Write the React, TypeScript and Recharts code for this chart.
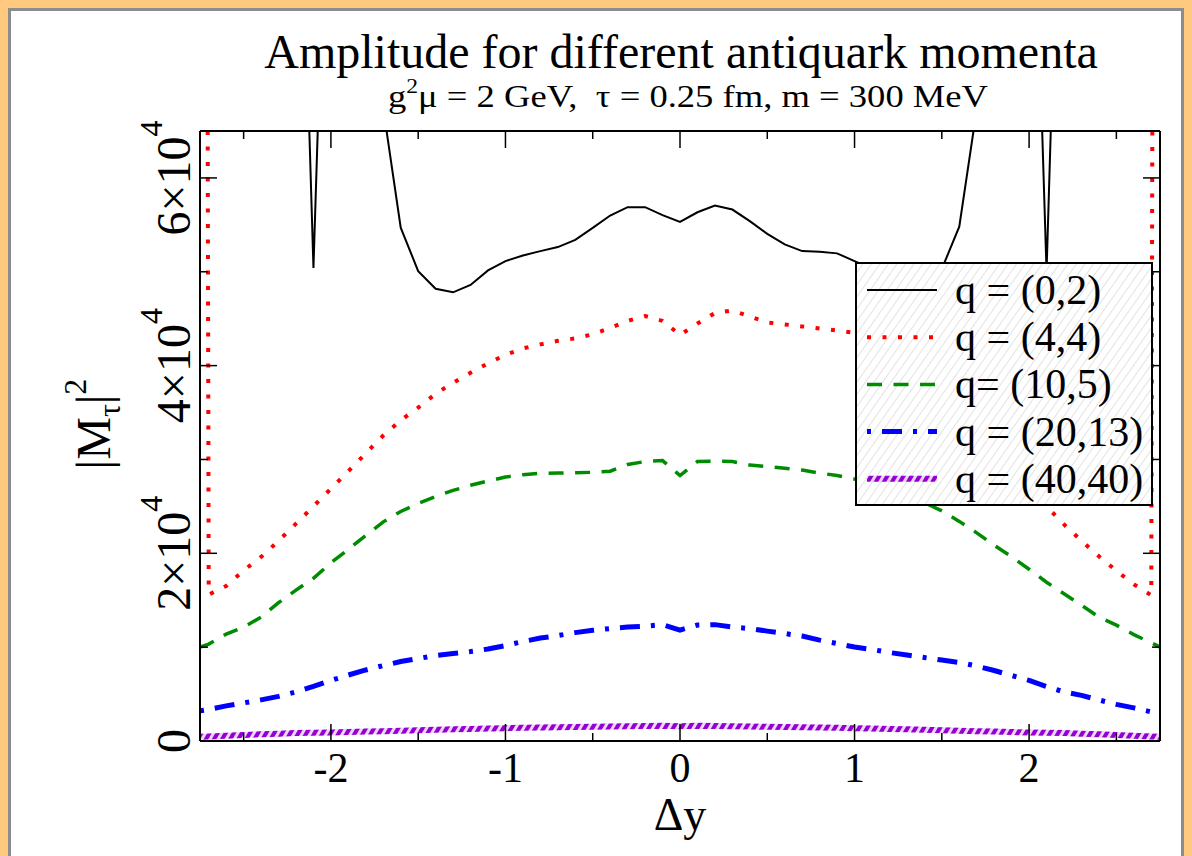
import React from "react";
import { LineChart, Line, XAxis, YAxis } from "recharts";

// rapidity difference grid
const dy = [
  -2.75, -2.7, -2.6, -2.5, -2.4, -2.3, -2.2, -2.1, -2.0, -1.9, -1.8, -1.7, -1.6, -1.5, -1.4, -1.3, -1.2, -1.1, -1.0,
  -0.9, -0.8, -0.7, -0.6, -0.5, -0.4, -0.3, -0.2, -0.1, 0, 0.1, 0.2, 0.3, 0.4, 0.5, 0.6, 0.7, 0.8, 0.9, 1.0,
  1.1, 1.2, 1.3, 1.4, 1.5, 1.6, 1.7, 1.8, 1.9, 2.0, 2.1, 2.2, 2.3, 2.4, 2.5, 2.6, 2.7, 2.75,
];

const q02 = [
  260000, 230000, 200000, 175000, 150000, 130000, 112000, 50400, 110000, 95000, 82000, 67400, 54700, 50070, 48190, 47810, 48590, 50150, 51140,
  51740, 52200, 52630, 53400, 54680, 55990, 56880, 56880, 56030, 55310, 56340, 57060, 56630, 55390, 54040, 52910, 52200, 52130, 51960, 51140,
  50300, 48800, 47900, 48300, 50300, 54800, 67300, 82000, 95000, 110000, 50000, 112000, 130000, 150000, 175000, 200000, 230000, 260000,
];

const q44 = [
  430000, 15600, 16520, 18170, 19620, 21320, 23160, 25000, 26880, 28750, 30660, 32550, 34170, 35520, 37000, 38170, 39240, 40240, 41150,
  41830, 42260, 42640, 42900, 43330, 44020, 44760, 45290, 44760, 43270, 44490, 45610, 45880, 45240, 44600, 44390, 44180, 43960, 43750, 43490,
  42900, 42000, 40700, 39000, 37100, 34900, 32700, 30700, 28750, 26880, 25000, 23080, 21330, 19680, 18140, 16700, 15530, 430000,
];

const q105 = [
  10010, 10330, 11390, 12140, 13200, 14740, 16070, 17340, 18990, 20420, 21910, 23350, 24460, 25310, 26060, 26700, 27250, 27700, 28130,
  28370, 28520, 28560, 28590, 28630, 28750, 29460, 29780, 29880, 28290, 29780, 29810, 29780, 29400, 29250, 29060, 28870, 28550, 28290, 27920,
  27500, 26900, 26200, 25400, 24520, 23400, 22180, 20850, 19630, 18300, 16920, 15700, 14470, 13200, 12350, 11340, 10470, 10010,
];

const q2013 = [
  3210, 3370, 3740, 4060, 4380, 4750, 5230, 5810, 6450, 7030, 7570, 8040, 8470, 8790, 9110, 9320, 9530, 9800, 10170,
  10600, 10970, 11230, 11550, 11790, 11980, 12140, 12240, 12400, 11820, 12350, 12400, 12140, 11980, 11710, 11450, 11180, 10750, 10380, 10010,
  9750, 9430, 9160, 8890, 8630, 8360, 7990, 7510, 6980, 6450, 5810, 5230, 4860, 4380, 3900, 3530, 3100, 2940,
];

const q4040 = [
  450, 480, 560, 640, 710, 780, 840, 880, 910, 950, 1000, 1050, 1100, 1150, 1200, 1250, 1290, 1330, 1370,
  1400, 1430, 1460, 1490, 1520, 1550, 1580, 1600, 1620, 1580, 1620, 1600, 1580, 1550, 1520, 1490, 1460, 1430, 1400, 1370,
  1330, 1290, 1250, 1200, 1150, 1100, 1050, 1000, 950, 910, 880, 840, 780, 710, 640, 560, 480, 450,
];

const xTicks = [-2.5, -2, -1.5, -1, -0.5, 0, 0.5, 1, 1.5, 2, 2.5];
const yTicks = [0, 10000, 20000, 30000, 40000, 50000, 60000];

const series = [
  { key: "q02", name: "q = (0,2)", values: q02, color: "#000000", width: 2, dash: undefined as string | undefined },
  { key: "q44", name: "q = (4,4)", values: q44, color: "#ff0000", width: 4, dash: "4 11.5" },
  { key: "q105", name: "q= (10,5)", values: q105, color: "#008c00", width: 3.5, dash: "15 11.5" },
  { key: "q2013", name: "q = (20,13)", values: q2013, color: "#0000ff", width: 5, dash: "4 11 20 11" },
  { key: "q4040", name: "q = (40,40)", values: q4040, color: "url(#violetHatch)", width: 6, dash: undefined },
];

const rows = dy.map((x, i) => {
  const r: Record<string, number> = { dy: x };
  series.forEach((s) => (r[s.key] = s.values[i]));
  return r;
});

const FONT = "'Liberation Serif', 'Times New Roman', serif";
const W = 1192;
const H = 856;

const BottomTick = (p: any) => {
  const major = Number.isInteger(p.payload.value);
  return (
    <g>
      <line x1={p.x} y1={p.y} x2={p.x} y2={p.y - (major ? 17 : 8)} stroke="#000" strokeWidth={1.5} />
      {major && (
        <text x={p.x} y={p.y + 41} textAnchor="middle" fontSize={42} fontFamily={FONT} fill="#000">
          {String(p.payload.value)}
        </text>
      )}
    </g>
  );
};

const TopTick = (p: any) => {
  const major = Number.isInteger(p.payload.value);
  return <line x1={p.x} y1={p.y} x2={p.x} y2={p.y + (major ? 17 : 8)} stroke="#000" strokeWidth={1.5} />;
};

const LeftTick = (p: any) => {
  const v = p.payload.value;
  const major = v % 20000 === 0;
  const bx = p.x - 10;
  return (
    <g>
      <line x1={p.x} y1={p.y} x2={p.x + (major ? 17 : 8)} y2={p.y} stroke="#000" strokeWidth={1.5} />
      {major && (
        <text
          x={bx}
          y={p.y}
          transform={`rotate(-90 ${bx} ${p.y})`}
          textAnchor="middle"
          fontSize={48}
          fontFamily={FONT}
          fill="#000"
        >
          {v === 0 ? "0" : `${v / 10000}×10`}
          {v !== 0 && (
            <tspan fontSize={32} dy={-28}>
              4
            </tspan>
          )}
        </text>
      )}
    </g>
  );
};

const RightTick = (p: any) => {
  const major = p.payload.value % 20000 === 0;
  return <line x1={p.x} y1={p.y} x2={p.x - (major ? 17 : 8)} y2={p.y} stroke="#000" strokeWidth={1.5} />;
};

const axisLine = { stroke: "#000", strokeWidth: 2 };

const LegendBox = () => (
  <svg width={298} height={244} style={{ position: "absolute", left: 855, top: 262 }}>
    <rect x={1} y={1} width={296} height={242} fill="#fff" />
    <rect x={1} y={1} width={296} height={242} fill="url(#greyHatch)" stroke="#000" strokeWidth={2} />
    {series.map((s, i) => {
      const cy = 28 + i * 47.2;
      return (
        <g key={s.key}>
          <line x1={12} y1={cy} x2={82} y2={cy} stroke={s.color} strokeWidth={s.width} strokeDasharray={s.dash} />
          <text x={100} y={cy + 14} fontSize={42} fontFamily={FONT} fill="#000">
            {s.name}
          </text>
        </g>
      );
    })}
  </svg>
);

export default function App() {
  return (
    <div style={{ position: "fixed", left: 0, top: 0, width: W, height: H, background: "#ffc97f", overflow: "hidden" }}>
      <div
        style={{
          position: "absolute",
          left: 8,
          top: 8,
          width: 1170,
          height: 900,
          background: "#fff",
          border: "3px solid #8c8c8c",
        }}
      />
      <svg width={0} height={0} style={{ position: "absolute" }}>
        <defs>
          <pattern id="violetHatch" patternUnits="userSpaceOnUse" width={7} height={7} patternTransform="rotate(30)">
            <rect width={7} height={7} fill="#efd5f7" />
            <rect width={4} height={7} fill="#9400d3" />
          </pattern>
          <pattern id="greyHatch" patternUnits="userSpaceOnUse" width={7} height={7} patternTransform="rotate(35)">
            <line x1={0} y1={0} x2={0} y2={7} stroke="#cfcfcf" strokeWidth={1.2} />
          </pattern>
        </defs>
      </svg>
      <div style={{ position: "absolute", left: 0, top: 0 }}>
        <LineChart width={W} height={H} data={rows} margin={{ top: 130, right: 31, bottom: 114, left: 199 }}>
          <XAxis
            dataKey="dy"
            type="number"
            domain={[-2.75, 2.75]}
            allowDataOverflow
            ticks={xTicks}
            interval={0}
            height={1}
            tickSize={0}
            tickMargin={0}
            tickLine={false}
            axisLine={axisLine}
            tick={<BottomTick />}
          />
          <XAxis
            xAxisId="top"
            orientation="top"
            dataKey="dy"
            type="number"
            domain={[-2.75, 2.75]}
            allowDataOverflow
            ticks={xTicks}
            interval={0}
            height={1}
            tickSize={0}
            tickMargin={0}
            tickLine={false}
            axisLine={axisLine}
            tick={<TopTick />}
          />
          <YAxis
            type="number"
            domain={[0, 65000]}
            allowDataOverflow
            ticks={yTicks}
            interval={0}
            width={1}
            tickSize={0}
            tickMargin={0}
            tickLine={false}
            axisLine={axisLine}
            tick={<LeftTick />}
          />
          <YAxis
            yAxisId="right"
            orientation="right"
            type="number"
            domain={[0, 65000]}
            allowDataOverflow
            ticks={yTicks}
            interval={0}
            width={1}
            tickSize={0}
            tickMargin={0}
            tickLine={false}
            axisLine={axisLine}
            tick={<RightTick />}
          />
          {series.map((s) => (
            <Line
              key={s.key}
              dataKey={s.key}
              name={s.name}
              type="linear"
              stroke={s.color}
              strokeWidth={s.width}
              strokeDasharray={s.dash}
              dot={false}
              activeDot={false}
              isAnimationActive={false}
            />
          ))}
        </LineChart>
      </div>
      <svg width={W} height={H} style={{ position: "absolute", left: 0, top: 0, pointerEvents: "none" }}>
        <text x={681} y={68} textAnchor="middle" fontSize={48} fontFamily={FONT} fill="#000">
          Amplitude for different antiquark momenta
        </text>
        <text
          x={688}
          y={107}
          textAnchor="middle"
          fontSize={31}
          fontFamily={FONT}
          fill="#000"
          textLength={600}
          lengthAdjust="spacingAndGlyphs"
          style={{ whiteSpace: "pre" }}
        >
          g<tspan fontSize={20} dy={-14}>2</tspan>
          <tspan dy={14}>{"μ = 2 GeV,  τ = 0.25 fm, m = 300 MeV"}</tspan>
        </text>
        <text
          x={110}
          y={424}
          transform="rotate(-90 110 424)"
          textAnchor="middle"
          fontSize={48}
          fontFamily={FONT}
          fill="#000"
        >
          |M<tspan fontSize={32} dy={10}>τ</tspan>
          <tspan dy={-10}>|</tspan>
          <tspan fontSize={32} dy={-24}>2</tspan>
        </text>
        <text x={680} y={830} textAnchor="middle" fontSize={46} fontFamily={FONT} fill="#000">
          Δy
        </text>
      </svg>
      <LegendBox />
    </div>
  );
}
